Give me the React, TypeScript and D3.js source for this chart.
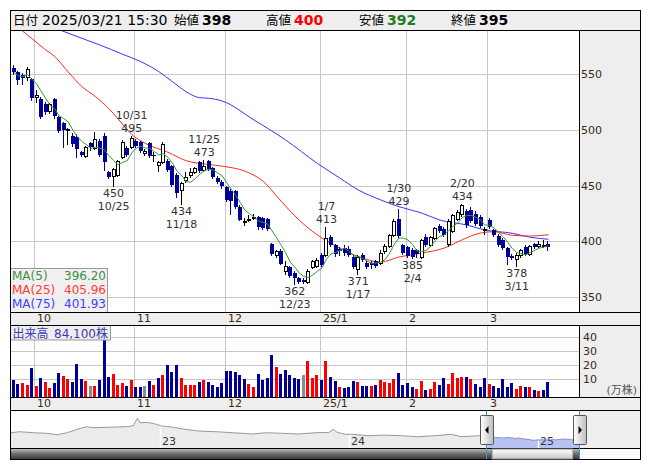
import React from "react";
import * as d3 from "d3";

const dates = [
  "2024-09-24","2024-09-25","2024-09-26","2024-09-27","2024-09-30",
  "2024-10-01","2024-10-02","2024-10-03","2024-10-04","2024-10-07","2024-10-08","2024-10-09","2024-10-10","2024-10-11","2024-10-15","2024-10-16","2024-10-17","2024-10-18","2024-10-21","2024-10-22","2024-10-23","2024-10-24","2024-10-25","2024-10-28","2024-10-29","2024-10-30","2024-10-31",
  "2024-11-01","2024-11-05","2024-11-06","2024-11-07","2024-11-08","2024-11-11","2024-11-12","2024-11-13","2024-11-14","2024-11-15","2024-11-18","2024-11-19","2024-11-20","2024-11-21","2024-11-22","2024-11-25","2024-11-26","2024-11-27","2024-11-28","2024-11-29",
  "2024-12-02","2024-12-03","2024-12-04","2024-12-05","2024-12-06","2024-12-09","2024-12-10","2024-12-11","2024-12-12","2024-12-13","2024-12-16","2024-12-17","2024-12-18","2024-12-19","2024-12-20","2024-12-23","2024-12-24","2024-12-25","2024-12-26","2024-12-27","2024-12-30",
  "2025-01-06","2025-01-07","2025-01-08","2025-01-09","2025-01-10","2025-01-14","2025-01-15","2025-01-16","2025-01-17","2025-01-20","2025-01-21","2025-01-22","2025-01-23","2025-01-24","2025-01-27","2025-01-28","2025-01-29","2025-01-30","2025-01-31",
  "2025-02-03","2025-02-04","2025-02-05","2025-02-06","2025-02-07","2025-02-10","2025-02-12","2025-02-13","2025-02-14","2025-02-17","2025-02-18","2025-02-19","2025-02-20","2025-02-21","2025-02-25","2025-02-26","2025-02-27","2025-02-28",
  "2025-03-03","2025-03-04","2025-03-05","2025-03-06","2025-03-07","2025-03-10","2025-03-11","2025-03-12","2025-03-13","2025-03-14","2025-03-17","2025-03-18","2025-03-19","2025-03-21"
];

const openP = [556,552,549,548,546, 530,528,523,517,528,512,506,500,495,494,480,477,488,484,490,495,462,459,460,476,484,485,
  490,489,479,488,478,469,471,472,468,460,446,455,460,462,471,464,472,466,457,453,
  449,445,445,431,417,419,421,422,421,420,398,388,391,373,377,372,367,365,364,377,378,
  388,388,404,397,393,394,393,386,375,388,381,381,382,381,391,396,406,420,397,
  395,392,392,386,404,397,403,414,411,398,409,420,425,427,428,425,422,410,
  419,410,405,401,394,387,384,388,395,389,398,396,396,398];
const highP = [558,553,551,557,547, 536,530,525,524,529,513,507,502,497,496,481,486,489,498,492,497,463,466,473,491,486,495,
  492,490,483,489,480,472,489,474,469,461,453,462,466,467,472,473,473,467,459,455,
  450,447,446,433,421,424,425,423,422,421,399,392,393,382,378,373,368,367,375,383,385,
  390,413,406,398,395,397,396,388,388,390,383,382,383,392,398,407,420,429,398,
  396,394,393,402,407,405,413,416,413,420,425,428,434,429,431,427,424,413,
  421,411,407,403,395,389,390,393,397,397,399,400,401,400];
const lowP = [550,541,541,545,527, 525,511,514,515,511,498,485,487,486,476,477,476,482,483,477,464,457,450,459,475,477,484,
  485,480,478,476,472,463,470,463,450,440,434,453,458,461,462,463,464,457,452,448,
  436,425,430,419,415,418,420,411,411,410,388,386,380,371,368,362,363,363,363,376,377,
  378,387,396,387,388,388,387,376,371,382,376,376,377,380,390,395,405,404,389,
  386,385,386,385,396,396,402,408,405,396,408,419,423,413,417,415,413,407,
  412,405,396,393,380,384,378,386,388,388,394,395,395,392];
const closeP = [552,545,547,555,529, 531,512,516,523,513,499,500,501,487,483,478,485,485,492,478,471,458,465,472,489,478,493,
  486,481,481,477,478,471,487,464,451,443,452,458,462,466,463,468,465,458,453,450,
  437,436,431,419,418,420,422,413,412,411,389,391,380,378,369,367,364,364,373,382,383,
  379,403,397,389,391,390,388,377,386,383,377,379,378,390,396,406,418,405,390,
  387,386,389,401,397,404,412,409,406,418,424,426,433,415,418,416,414,411,
  413,406,397,394,386,385,388,392,389,396,395,398,397,395];
// 出来高（万株）
const volumeMan = [9.5,6.7,7.7,6.0,17.7, 5.3,10.7,8.1,3.9,7.4,14.4,12.3,10.2,8.1,20.8,10.2,8.8,5.1,5.1,9.5,38.0,11.6,13.7,6.0,7.4,5.3,9.5,
  4.6,4.6,5.3,8.8,6.0,10.9,13.0,20.0,15.2,20.0,10.9,6.0,6.0,6.0,8.1,9.5,8.1,6.0,4.6,7.4,
  15.9,15.9,15.2,13.0,10.2,6.7,4.6,13.7,9.5,10.9,27.1,18.7,13.7,16.6,13.0,10.9,10.2,13.0,22.9,10.9,13.0,
  9.5,22.9,11.6,8.8,4.6,3.9,4.6,8.8,8.1,5.3,5.3,5.3,6.0,9.5,8.1,7.4,10.2,14.4,6.0,
  7.4,4.6,3.2,8.8,2.5,3.2,8.1,6.0,10.9,6.7,14.4,10.9,11.6,11.6,10.2,6.7,4.6,10.9,
  6.7,5.3,3.9,10.2,4.6,7.4,3.2,5.3,4.6,4.6,2.5,1.8,2.5,8.41];

const priceTicks = [350, 400, 450, 500, 550];
const volumeTicks = [10, 20, 30, 40];
const monthStarts = ["2024-10-01","2024-11-01","2024-12-02","2025-01-06","2025-02-03","2025-03-03"];
const monthLabels = ["10","11","12","25/1","2","3"];
const highMarkDates = ["2024-10-31","2024-11-25","2025-01-07","2025-01-30","2025-02-20"];
const lowMarkDates = ["2024-10-25","2024-11-18","2024-12-23","2025-01-17","2025-02-04","2025-03-11"];

const ma25Idx = [0,4,7,9,12,15,18,21,23,26,29,34,38,43,46,51,55,59,63,68,72,76,81,85,90,95,99,103,106,110,114,118];
const ma25Val = [595,582,572,566,552,539,530,519,510,496,488,480,472.5,469,467.5,463,454,436,419,403,394,386.5,381.5,386,389.5,394,401.5,407.5,408.7,405.5,404.8,405.96];
const ma75Idx = [10,16,19,24,28,32,35,38,41,43,46,53,60,67,72,76,81,85,90,94,100,104,110,114,118];
const ma75Val = [590,580.8,576.3,568,561.4,552.4,543.4,534.4,529,528.5,526,509,491,470,456.7,446.2,437.2,431.2,425.5,419.2,414.7,410.2,407.3,403.7,401.93];
const maNames = ["MA(5)", "MA(25)", "MA(75)"];
const maLast = [396.20, 405.96, 401.93];

const navDates = ["2022-03-18","2022-04-05","2022-05-01","2022-05-27","2022-06-16","2022-07-05","2022-07-31","2022-08-12","2022-08-25","2022-09-20","2022-10-09","2022-10-28","2022-11-10","2022-11-18","2022-11-23","2022-12-06","2022-12-18","2023-01-04","2023-01-13","2023-01-26","2023-02-14","2023-03-06","2023-03-17","2023-04-18","2023-05-21","2023-06-28","2023-07-24","2023-08-25","2023-09-26","2023-10-28","2023-11-23","2023-12-02","2023-12-09","2023-12-25","2024-01-06","2024-02-07","2024-03-10","2024-04-11","2024-05-14","2024-06-15","2024-07-17","2024-08-05","2024-09-07"];
const navValues = [706,751,706,679,617,706,903,975,930,948,961,975,1019,1350,1153,1168,1126,1006,988,948,872,813,782,751,706,648,706,679,648,706,720,858,720,635,635,572,599,572,527,572,635,527,572];
const yearMarks = ["2023-01-01", "2024-01-01", "2025-01-01"];
const yearLabels = ["23", "24", "25"];

const F = "'DejaVu Sans', 'Noto Sans CJK JP', sans-serif";
const JP = "'Noto Sans CJK JP', sans-serif";
const NAVY = "#000099";

export default function App() {
  const n = dates.length;
  const step = 4.53;
  const x0 = 11.65;
  const L = 10.5, R = 640.5, PR = 579.5;
  const hTop = 10.5, pTop = 30.5, pBot = 312.5, s1Bot = 325.5, vBot = 397.5, s2Bot = 410.5, nBot = 448.5, sBot = 459.5;

  const xb = d3.scaleBand<string>().domain(dates).range([x0, x0 + step * n]).padding(0);
  const bw = xb.bandwidth();
  const cxf = (i: number) => (xb(dates[i]) as number) + bw / 2;
  const cx = (i: number) => Math.round(cxf(i));
  const gx = (d: string) => Math.round(xb(d) as number) + 0.5;
  const yP = d3.scaleLinear().domain([350, 550]).range([297.1, 74.3]);
  const yV = d3.scaleLinear().domain([0, 40]).range([393.6, 336.7]);
  const ry = (v: number) => Math.round(yP(v));

  const ma5 = closeP.map((_, i) => d3.mean(closeP.slice(Math.max(0, i - 4), i + 1)) as number);
  const lineLin = d3.line<[number, number]>().x(d => cxf(d[0])).y(d => yP(d[1]));
  const lineSm = d3.line<[number, number]>().x(d => cxf(d[0])).y(d => yP(d[1])).curve(d3.curveMonotoneX);
  const ma5Path = lineLin(ma5.map((v, i) => [i, v] as [number, number])) || "";
  const ma25Path = lineSm(ma25Idx.map((k, j) => [k, ma25Val[j]] as [number, number])) || "";
  const ma75Path = lineSm(ma75Idx.map((k, j) => [k, ma75Val[j]] as [number, number])) || "";

  const parse = d3.timeParse("%Y-%m-%d");
  const md = (s: string) => { const d = parse(s) as Date; return `${d.getMonth() + 1}/${d.getDate()}`; };

  const last = n - 1;
  const lastDate = parse(dates[last]) as Date;
  const headerDate = d3.timeFormat("%Y/%m/%d")(lastDate) + " 15:30";
  const volLabel = d3.format(",")(Math.round(volumeMan[last] * 10000)) + "株";

  // navigator
  const xN = d3.scaleTime().domain([parse(navDates[0]) as Date, lastDate]).range([10.7, 579.3]);
  const yN = d3.scaleLinear().domain([0, 1700]).range([nBot, s2Bot]);
  const histPts: [Date, number][] = navDates.map((d, i) => [parse(d) as Date, navValues[i]]);
  const winPts: [Date, number][] = dates.map((d, i) => [parse(d) as Date, closeP[i]]);
  const joinPts = [...histPts, winPts[0]];
  const navLine = d3.line<[Date, number]>().x(d => xN(d[0])).y(d => yN(d[1]));
  const navArea = d3.area<[Date, number]>().x(d => xN(d[0])).y0(nBot).y1(d => yN(d[1]));
  const wStart = Math.round(xN(parse(dates[0]) as Date)) - 0.5;
  const wEnd = PR;

  const volColor = (i: number) => {
    const prev = i === 0 ? openP[0] : closeP[i - 1];
    if (closeP[i] > prev) return "#ff0000";
    if (closeP[i] < prev) return NAVY;
    return "#8c8c8c";
  };

  const maColors = ["#339933", "#ff2a2a", "#3535ff"];
  const maTextColors = ["#3f8f3f", "#ff3a3a", "#4040ff"];

  return (
    <svg width={653} height={470} style={{ position: "absolute", left: 0, top: 0, background: "#fff" }} fontFamily={F}>
      <defs>
        <clipPath id="plotClip"><rect x={L + 0.5} y={pTop + 0.5} width={PR - L - 1} height={pBot - pTop - 1} /></clipPath>
        <linearGradient id="scrollDark" x1="0" y1="0" x2="0" y2="1">
          <stop offset="0" stopColor="#b8b8b8" />
          <stop offset="0.5" stopColor="#6a6a6a" />
          <stop offset="1" stopColor="#3a3a3a" />
        </linearGradient>
        <linearGradient id="scrollThumb" x1="0" y1="0" x2="0" y2="1">
          <stop offset="0" stopColor="#ffffff" />
          <stop offset="1" stopColor="#c8c8c8" />
        </linearGradient>
        <linearGradient id="handleG" x1="0" y1="0" x2="1" y2="0">
          <stop offset="0" stopColor="#ffffff" />
          <stop offset="1" stopColor="#bdbdbd" />
        </linearGradient>
      </defs>

      {/* header */}
      <rect x={L} y={hTop} width={R - L} height={pTop - hTop} fill="#eeeeee" stroke="#000" />
      <g fill="#000">
        <text x={13} y={25} fontSize={12.5} fontFamily={JP}>日付</text>
        <text x={42} y={25} fontSize={14}>{headerDate}</text>
        <text x={174} y={25} fontSize={12.5} fontFamily={JP}>始値</text>
        <text x={202} y={25} fontSize={14} fontWeight="bold">{openP[last]}</text>
        <text x={266} y={25} fontSize={12.5} fontFamily={JP}>高値</text>
        <text x={294} y={25} fontSize={14} fontWeight="bold" fill="#ff0000">{highP[last]}</text>
        <text x={359} y={25} fontSize={12.5} fontFamily={JP}>安値</text>
        <text x={387} y={25} fontSize={14} fontWeight="bold" fill="#1e7b1e">{lowP[last]}</text>
        <text x={451} y={25} fontSize={12.5} fontFamily={JP}>終値</text>
        <text x={479} y={25} fontSize={14} fontWeight="bold">{closeP[last]}</text>
      </g>

      {/* price panel */}
      <rect x={L} y={pTop} width={PR - L} height={pBot - pTop} fill="#fff" />
      <rect x={PR} y={pTop} width={R - PR} height={pBot - pTop} fill="#eeeeee" />
      {priceTicks.map(t => (
        <line key={"pg" + t} x1={L} x2={PR} y1={ry(t) + 0.5} y2={ry(t) + 0.5} stroke="#c8c8c8" />
      ))}
      {monthStarts.map(d => (
        <line key={"vg" + d} x1={gx(d)} x2={gx(d)} y1={pTop} y2={pBot} stroke="#c8c8c8" />
      ))}
      {priceTicks.map(t => (
        <text key={"pt" + t} x={581} y={yP(t) + 4} fontSize={11} fill="#3a2a10">{t}</text>
      ))}

      <g clipPath="url(#plotClip)">
        <path d={ma75Path} fill="none" stroke={maColors[2]} strokeWidth={1} />
        <path d={ma25Path} fill="none" stroke={maColors[1]} strokeWidth={1} />
      </g>

      {/* candles */}
      {dates.map((d, i) => {
        const x = cx(i);
        const o = openP[i], c = closeP[i], h = highP[i], l = lowP[i];
        const up = c > o;
        const dn = c < o;
        const col = dn ? NAVY : "#000";
        const top = ry(Math.max(o, c)), bot = ry(Math.min(o, c));
        return (
          <g key={"c" + d}>
            <line x1={x - 0.5} x2={x - 0.5} y1={ry(h)} y2={ry(l) + 1} stroke={col} />
            {up && <rect x={x - 1.5} y={top + 0.5} width={3} height={Math.max(1, bot - top)} fill="#fff" stroke="#000" />}
            {dn && <rect x={x - 2} y={top} width={4} height={Math.max(1, bot - top)} fill={NAVY} />}
            {!up && !dn && <line x1={x - 2} x2={x + 2} y1={top + 0.5} y2={top + 0.5} stroke="#000" />}
          </g>
        );
      })}
      <g clipPath="url(#plotClip)">
        <path d={ma5Path} fill="none" stroke={maColors[0]} strokeWidth={1} />
      </g>

      {/* high / low marks */}
      <g fontSize={11} fill="#333" textAnchor="middle">
        {highMarkDates.map(d => {
          const i = dates.indexOf(d);
          const y = yP(highP[i]);
          return (
            <g key={"hm" + d}>
              <text x={cxf(i)} y={y - 17}>{md(d)}</text>
              <text x={cxf(i)} y={y - 4}>{highP[i]}</text>
            </g>
          );
        })}
        {lowMarkDates.map(d => {
          const i = dates.indexOf(d);
          const y = yP(lowP[i]);
          return (
            <g key={"lm" + d}>
              <text x={cxf(i)} y={y + 11}>{lowP[i]}</text>
              <text x={cxf(i)} y={y + 24}>{md(d)}</text>
            </g>
          );
        })}
      </g>

      {/* MA legend */}
      <rect x={L} y={268.5} width={97} height={pBot - 268.5} fill="#eeeeee" fillOpacity={0.9} stroke="#999" />
      {maNames.map((m, k) => (
        <g key={m} fontSize={12} fill={maTextColors[k]}>
          <text x={12} y={280 + k * 14}>{m}</text>
          <text x={106} y={280 + k * 14} textAnchor="end">{maLast[k].toFixed(2)}</text>
        </g>
      ))}

      <rect x={L} y={pTop} width={R - L} height={pBot - pTop} fill="none" stroke="#000" />
      <line x1={PR} x2={PR} y1={pTop} y2={pBot} stroke="#000" />

      {/* date strip 1 */}
      <rect x={L} y={pBot} width={R - L} height={s1Bot - pBot} fill="#eeeeee" stroke="#000" />
      {monthStarts.map((d, k) => (
        <text key={"ml1" + d} x={gx(d) + 2.5} y={322} fontSize={11} fill="#3a2a10">{monthLabels[k]}</text>
      ))}

      {/* volume panel */}
      <rect x={L} y={s1Bot} width={PR - L} height={vBot - s1Bot} fill="#fff" />
      <rect x={PR} y={s1Bot} width={R - PR} height={vBot - s1Bot} fill="#eeeeee" />
      {volumeTicks.map(t => (
        <line key={"vgl" + t} x1={L} x2={PR} y1={Math.round(yV(t)) + 0.5} y2={Math.round(yV(t)) + 0.5} stroke="#c8c8c8" />
      ))}
      {monthStarts.map(d => (
        <line key={"vvg" + d} x1={gx(d)} x2={gx(d)} y1={s1Bot} y2={vBot} stroke="#c8c8c8" />
      ))}
      {volumeMan.map((v, i) => {
        const top = Math.round(yV(v));
        return <rect key={"v" + i} x={cx(i) - 2} y={top} width={3} height={vBot - 0.5 - top} fill={volColor(i)} />;
      })}
      {volumeTicks.map(t => (
        <text key={"vt" + t} x={583} y={yV(t) + 4} fontSize={11} fill="#3a2a10">{t}</text>
      ))}
      <text x={637} y={394} fontSize={11} fill="#555" textAnchor="end">(万株)</text>
      <rect x={L} y={s1Bot} width={100} height={14.5} fill="#eeeeee" stroke="#999" />
      <text x={12.5} y={337.5} fontSize={12} fill="#3a3ab4" fontFamily={JP}>出来高</text>
      <text x={108} y={337.5} fontSize={12} fill="#3a3ab4" textAnchor="end">{volLabel}</text>
      <rect x={L} y={s1Bot} width={R - L} height={vBot - s1Bot} fill="none" stroke="#000" />
      <line x1={PR} x2={PR} y1={s1Bot} y2={vBot} stroke="#000" />

      {/* date strip 2 */}
      <rect x={L} y={vBot} width={R - L} height={s2Bot - vBot} fill="#eeeeee" stroke="#000" />
      {monthStarts.map((d, k) => (
        <text key={"ml2" + d} x={gx(d) + 2.5} y={407} fontSize={11} fill="#3a2a10">{monthLabels[k]}</text>
      ))}

      {/* navigator */}
      <rect x={L} y={s2Bot} width={R - L} height={nBot - s2Bot} fill="#fff" />
      <rect x={PR} y={s2Bot} width={R - PR} height={nBot - s2Bot} fill="#eeeeee" />
      <path d={navArea(joinPts) || ""} fill="#ececec" />
      <path d={navArea(winPts) || ""} fill="#b7c2f3" />
      {yearMarks.map((d, k) => {
        const x = Math.round(xN(parse(d) as Date)) + 0.5;
        return (
          <g key={"ym" + d}>
            <line x1={x} x2={x} y1={426} y2={nBot} stroke="#fff" strokeWidth={1.5} />
            <text x={x + 1.5} y={445} fontSize={11} fill="#333">{yearLabels[k]}</text>
          </g>
        );
      })}
      <path d={navLine(joinPts) || ""} fill="none" stroke="#9a9a9a" strokeWidth={1} />
      <path d={navLine(winPts) || ""} fill="none" stroke="#8088c8" strokeWidth={1} />
      <rect x={L} y={s2Bot} width={R - L} height={nBot - s2Bot} fill="none" stroke="#000" />

      {/* scrollbar */}
      <rect x={L} y={nBot} width={R - L} height={sBot - nBot} fill="#fafafa" stroke="#000" />
      <rect x={L + 0.5} y={nBot + 0.5} width={wStart + 5 - L} height={sBot - nBot - 1} fill="url(#scrollDark)" />
      <rect x={wStart + 5.5} y={nBot + 0.5} width={wEnd - wStart - 12} height={sBot - nBot - 1} fill="url(#scrollThumb)" stroke="#888" />
      <rect x={wEnd - 6.5} y={nBot + 0.5} width={6.5} height={sBot - nBot - 1} fill="url(#scrollDark)" />

      {/* selection lines and handles */}
      <line x1={wStart} x2={wStart} y1={s2Bot} y2={nBot + 10.5} stroke="#2c9fd0" />
      <line x1={wEnd} x2={wEnd} y1={s2Bot} y2={nBot + 10.5} stroke="#2c9fd0" />
      {[wStart, wEnd].map((hx, k) => (
        <g key={"h" + k}>
          <rect x={Math.round(hx) - 6.5} y={415.5} width={13} height={29} fill="url(#handleG)" stroke="#555" rx={1} />
          {k === 0 ? (
            <path d={`M${Math.round(hx) + 1.5},${426} L${Math.round(hx) + 1.5},${434} L${Math.round(hx) - 2},${430} Z`} fill="#000" />
          ) : (
            <path d={`M${Math.round(hx) - 1.5},${426} L${Math.round(hx) - 1.5},${434} L${Math.round(hx) + 2},${430} Z`} fill="#000" />
          )}
        </g>
      ))}
    </svg>
  );
}
